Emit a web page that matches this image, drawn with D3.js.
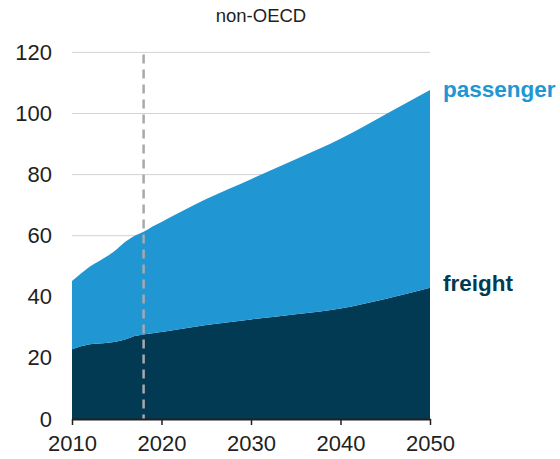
<!DOCTYPE html>
<html>
<head>
<meta charset="utf-8">
<script src="https://cdn.jsdelivr.net/npm/d3@7"></script>
<style>
  body { margin: 0; background: #fff; }
  svg { display: block; font-family: "Liberation Sans", Arial, sans-serif; }
</style>
</head>
<body>
<svg id="chart" width="560" height="459"></svg>
<script>
// values
const years = [2010, 2011, 2012, 2013, 2014, 2015, 2016, 2017, 2018, 2019, 2020, 2025, 2030, 2035, 2040, 2045, 2050];
const freight = [22.8, 23.8, 24.5, 24.7, 25.0, 25.4, 26.1, 27.2, 27.7, 28.1, 28.5, 30.8, 32.6, 34.3, 36.2, 39.3, 43.0];
const passenger = [22.4, 23.8, 25.4, 26.9, 28.4, 30.2, 32.0, 32.8, 33.6, 34.9, 36.0, 41.2, 45.9, 50.7, 55.5, 60.4, 64.7];
const yTicks = [0, 20, 40, 60, 80, 100, 120];
const xTicks = [2010, 2020, 2030, 2040, 2050];
const historyEnd = 2018;

const colors = { freight: "#023a53", passenger: "#2096d3" };

const svg = d3.select("#chart");

const x = d3.scaleLinear().domain([2010, 2050]).range([72, 430]);
const y = d3.scaleLinear().domain([0, 120]).range([419, 52.4]);

const rows = years.map((yr, i) => ({ year: yr, freight: freight[i], passenger: passenger[i] }));
const stack = d3.stack().keys(["freight", "passenger"]);
const series = stack(rows);

// gridlines
svg.append("g")
    .selectAll("line")
    .data(yTicks.filter(t => t > 0))
    .join("line")
    .attr("x1", x(2010))
    .attr("x2", x(2050))
    .attr("y1", d => y(d))
    .attr("y2", d => y(d))
    .attr("stroke", "#d3d3d3")
    .attr("stroke-width", 1);

const area = d3.area()
    .x(d => x(d.data.year))
    .y0(d => y(d[0]))
    .y1(d => y(d[1]))
    .curve(d3.curveMonotoneX);

svg.append("g")
    .selectAll("path")
    .data(series)
    .join("path")
    .attr("fill", d => colors[d.key])
    .attr("d", area);

// history / projection divider
svg.append("line")
    .attr("x1", x(historyEnd))
    .attr("x2", x(historyEnd))
    .attr("y1", y(120) + 2)
    .attr("y2", y(0))
    .attr("stroke", "#a7a9ac")
    .attr("stroke-width", 2.5)
    .attr("stroke-dasharray", "9,6");

// x axis
const xAxis = svg.append("g")
    .attr("transform", `translate(0,${y(0)})`)
    .call(d3.axisBottom(x).tickValues(xTicks).tickFormat(d3.format("d")).tickSize(6).tickSizeOuter(0).tickPadding(10));
xAxis.select(".domain").attr("stroke", "#231f20").attr("stroke-width", 2);
xAxis.selectAll(".tick line").attr("stroke", "#231f20").attr("stroke-width", 1.5);
xAxis.selectAll(".tick text")
    .attr("font-size", 22)
    .attr("font-family", "Liberation Sans, Arial, sans-serif")
    .attr("fill", "#231f20");

// y axis labels (no line)
const yAxis = svg.append("g")
    .attr("transform", `translate(${x(2010)},0)`)
    .call(d3.axisLeft(y).tickValues(yTicks).tickSize(0).tickPadding(20));
yAxis.select(".domain").remove();
yAxis.selectAll(".tick text")
    .attr("font-size", 22)
    .attr("font-family", "Liberation Sans, Arial, sans-serif")
    .attr("fill", "#231f20");

// title
svg.append("text")
    .attr("x", 261)
    .attr("y", 22)
    .attr("text-anchor", "middle")
    .attr("font-size", 18.5)
    .attr("fill", "#231f20")
    .text("non-OECD");

// series labels
svg.append("text")
    .attr("x", 443)
    .attr("y", 97)
    .attr("font-size", 22.5)
    .attr("font-weight", "bold")
    .attr("fill", colors.passenger)
    .text("passenger");

svg.append("text")
    .attr("x", 443)
    .attr("y", 291)
    .attr("font-size", 22.5)
    .attr("font-weight", "bold")
    .attr("fill", colors.freight)
    .text("freight");
</script>
</body>
</html>
